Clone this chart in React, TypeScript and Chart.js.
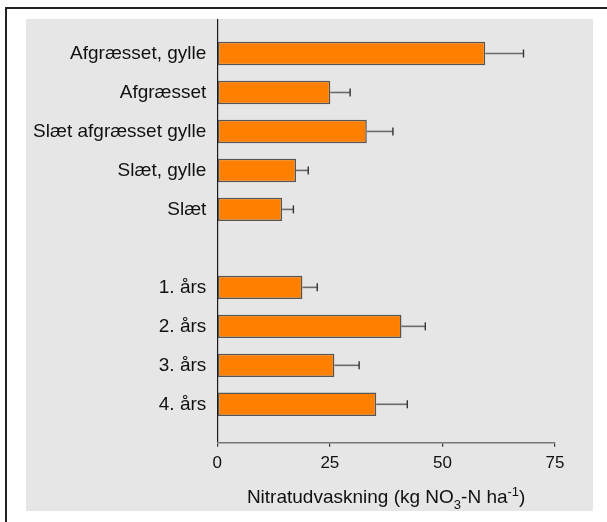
import React, { useEffect, useRef } from "react";
import { Chart, registerables } from "chart.js";

Chart.register(...registerables);

const categories = [
  "Afgræsset, gylle",
  "Afgræsset",
  "Slæt afgræsset gylle",
  "Slæt, gylle",
  "Slæt",
  "",
  "1. års",
  "2. års",
  "3. års",
  "4. års",
];
const leaching = [59.5, 25.1, 33.2, 17.5, 14.4, null, 18.9, 40.9, 26.0, 35.3];
const errors = [8.5, 4.4, 5.8, 2.7, 2.5, null, 3.3, 5.3, 5.5, 6.9];
const xTicks = [0, 25, 50, 75];
const titleParts = [
  { text: "Nitratudvaskning (kg NO", kind: "normal" },
  { text: "3", kind: "sub" },
  { text: "-N ha", kind: "normal" },
  { text: "-1", kind: "sup" },
  { text: ")", kind: "normal" },
];

const FONT = "'Liberation Sans', Arial, sans-serif";

export default function App() {
  const ref = useRef<HTMLCanvasElement | null>(null);

  useEffect(() => {
    if (!ref.current) return;
    const points = leaching
      .map((v, i) => (v == null ? null : { x: v, y: i, e: errors[i] }))
      .filter((p) => p !== null) as { x: number; y: number; e: number }[];

    const errorBars = {
      id: "errorBars",
      afterDatasetsDraw(chart: any) {
        const ctx = chart.ctx;
        const xs = chart.scales.x;
        const meta = chart.getDatasetMeta(0);
        ctx.save();
        meta.data.forEach((el: any, j: number) => {
          const p = points[j];
          const x0 = el.x;
          const x1 = xs.getPixelForValue(p.x + p.e);
          const y = el.y;
          ctx.strokeStyle = "#6a6a6a";
          ctx.lineWidth = 1.6;
          ctx.beginPath();
          ctx.moveTo(x0, y);
          ctx.lineTo(x1, y);
          ctx.stroke();
          ctx.strokeStyle = "#333";
          ctx.lineWidth = 1.4;
          ctx.beginPath();
          ctx.moveTo(x1, y - 4);
          ctx.lineTo(x1, y + 4);
          ctx.stroke();
        });
        ctx.restore();
      },
    };

    const axisTitle = {
      id: "axisTitle",
      afterDraw(chart: any) {
        const ctx = chart.ctx;
        const { left, right, bottom } = chart.chartArea;
        const base = bottom + 60.5;
        const fontFor = (k: string) => (k === "normal" ? `19px ${FONT}` : `13px ${FONT}`);
        ctx.save();
        let total = 0;
        titleParts.forEach((p) => {
          ctx.font = fontFor(p.kind);
          total += ctx.measureText(p.text).width;
        });
        let x = (left + right) / 2 - total / 2;
        ctx.fillStyle = "#111";
        ctx.textBaseline = "alphabetic";
        ctx.textAlign = "left";
        titleParts.forEach((p) => {
          ctx.font = fontFor(p.kind);
          const dy = p.kind === "sub" ? 6 : p.kind === "sup" ? -7.5 : 0;
          ctx.fillText(p.text, x, base + dy);
          x += ctx.measureText(p.text).width;
        });
        ctx.restore();
      },
    };

    const chart = new Chart(ref.current, {
      type: "bar",
      data: {
        datasets: [
          {
            data: points as any,
            backgroundColor: "#FF8000",
            borderColor: "#555555",
            borderWidth: 1.5,
            borderSkipped: false,
            barPercentage: 0.6,
            categoryPercentage: 1,
          },
        ],
      },
      options: {
        indexAxis: "y",
        animation: false,
        responsive: false,
        devicePixelRatio: 1,
        layout: { padding: { left: 0, right: 38, top: 0, bottom: 0 } },
        plugins: { legend: { display: false }, tooltip: { enabled: false }, title: { display: false } },
        scales: {
          y: {
            type: "linear",
            reverse: true,
            offset: false,
            min: -0.885,
            max: 9.985,
            afterFit: (s: any) => {
              s.width = 191.3;
              s.paddingTop = 0;
              s.paddingBottom = 0;
            },
            afterBuildTicks: (s: any) => {
              s.ticks = categories
                .map((c, i) => ({ value: i, c }))
                .filter((t) => t.c !== "")
                .map((t) => ({ value: t.value }));
            },
            grid: { display: false, drawTicks: false },
            border: { display: true, color: "#1a1a1a", width: 1.2 },
            ticks: {
              autoSkip: false,
              padding: 11,
              color: "#111",
              font: { family: FONT, size: 19 },
              callback: (v: any) => categories[v] ?? "",
            },
          },
          x: {
            type: "linear",
            min: xTicks[0],
            max: xTicks[xTicks.length - 1],
            afterFit: (s: any) => {
              s.height = 68.3;
              s.paddingLeft = 0;
              s.paddingRight = 0;
            },
            afterBuildTicks: (s: any) => {
              s.ticks = xTicks.map((v) => ({ value: v }));
            },
            grid: {
              display: true,
              drawOnChartArea: false,
              drawTicks: true,
              tickLength: 4,
              color: "#333",
              lineWidth: 1.2,
            },
            border: { display: true, color: "#777", width: 1.5 },
            ticks: {
              padding: 6,
              color: "#111",
              font: { family: FONT, size: 17 },
            },
          },
        },
      },
      plugins: [errorBars, axisTitle],
    });
    return () => chart.destroy();
  }, []);

  return (
    <div
      style={{
        position: "fixed",
        left: 0,
        top: 0,
        width: 607,
        height: 522,
        overflow: "hidden",
        background: "#fff",
      }}
    >
      <div
        style={{
          position: "absolute",
          left: 5,
          top: 7,
          width: 650,
          height: 560,
          border: "2px solid #222",
          background: "#fff",
        }}
      />
      <div
        style={{
          position: "absolute",
          left: 26,
          top: 19,
          width: 567,
          height: 492,
          background: "#e6e6e6",
        }}
      >
        <canvas ref={ref} width={567} height={492} style={{ width: 567, height: 492, display: "block" }} />
      </div>
    </div>
  );
}
